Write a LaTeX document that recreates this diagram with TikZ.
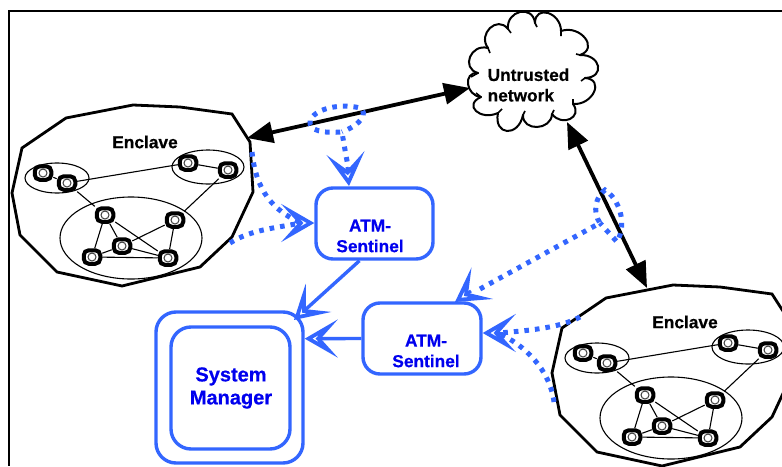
\documentclass[tikz,border=0pt]{standalone}
\usepackage{fontspec}
\setmainfont{Liberation Sans}[BoldFeatures={FakeBold=0.6}]
\usetikzlibrary{arrows.meta}
\definecolor{bl}{HTML}{3366FF}
\definecolor{tb}{HTML}{0000EE}
\tikzset{
  frameline/.style={black,line width=2.6pt},
  outline/.style={black,line width=2.8pt,line join=miter},
  thin1/.style={black,line width=1.1pt},
  device/.style={draw=black,fill=white,line width=4pt,rounded corners=5pt,minimum width=16.5pt,minimum height=13.5pt,inner sep=0pt,
    path picture={\draw[black!75,line width=1pt] (path picture bounding box.center) circle (4pt);}},
  lab/.style={font=\bfseries\fontsize{17.3}{20.5}\selectfont,align=center,inner sep=0pt},
  bbox/.style={draw=bl,line width=3.4pt,rounded corners=17pt,fill=white,inner sep=0pt},
  bigarrow/.style={black,line width=3.8pt,{Triangle[length=26pt,width=21pt]}-{Triangle[length=26pt,width=21pt]}},
  dots/.style={bl,line width=5pt,dash pattern=on 4.6pt off 6pt},
  chev/.style={-{Stealth[open,length=33pt,width=38pt,inset=17pt,line width=3.8pt]}},
  solidblue/.style={bl,line width=3.4pt,chev},
}
\newcommand\enclavegroup[3]{%
\begin{scope}[shift={(#2,#3)}]
  \draw[outline] (133,105) -- (180,107) -- (232,114) -- (250,142) -- (253,192) -- (232,237) -- (200,267) -- (122,286) -- (57,272) -- (20,235) -- (12,193) -- (22,148) -- (66,118) -- cycle;
  \node[lab] (#1t) at (145,142) {Enclave};
  \draw[thin1] (57,178) ellipse (32 and 15);
  \draw[thin1] (208,167) ellipse (36 and 17);
  \draw[thin1] (131,238) ellipse (71 and 41);
  \node[device] (#1a) at (43,173) {};
  \node[device] (#1b) at (67,183) {};
  \node[device] (#1c) at (188,163) {};
  \node[device] (#1d) at (228,170) {};
  \node[device] (#1e) at (105,215) {};
  \node[device] (#1f) at (175,220) {};
  \node[device] (#1g) at (122,246) {};
  \node[device] (#1h) at (92,257) {};
  \node[device] (#1i) at (168,258) {};
  \draw[thin1] (#1a) -- (#1b) (#1b) -- (#1c) (#1b) -- (#1e) (#1c) -- (#1d) (#1d) -- (#1f)
    (#1e) -- (#1h) (#1e) -- (#1g) (#1e) -- (#1i) (#1f) -- (#1g) (#1f) -- (#1i)
    (#1g) -- (#1h) (#1g) -- (#1i) (#1h) -- (#1i);
\end{scope}}
\begin{document}
\begin{tikzpicture}[x=1pt,y=-1pt]
\useasboundingbox (0,0) rectangle (782,466);
\clip (0,0) rectangle (782,466);
\fill[white] (0,0) rectangle (782,466);
\draw[frameline] (782,11) -- (9,11) -- (9,466);
\enclavegroup{p}{0}{0}
\enclavegroup{q}{540}{180}
% cloud: each bump is start / apex / end
\foreach \xa/\ya/\xb/\yb/\xc/\yc in {478/73/468/84/481/97, 481/97/476/111/498/113, 498/113/507/131/523/115,
  523/115/537/127/552/114, 552/114/570/119/573/104, 573/104/594/92/585/78, 585/78/598/66/580/55,
  580/55/585/38/561/31, 561/31/548/13/535/23, 535/23/520/12/508/29, 508/29/490/28/488/48, 488/48/470/57/478/73}{
  \pgfmathsetmacro\hx{(\xb-(\xa+\xc)/2)*4/3}
  \pgfmathsetmacro\hy{(\yb-(\ya+\yc)/2)*4/3}
  \draw[black,line width=2pt,line cap=round] (\xa,\ya) .. controls (\xa+\hx,\ya+\hy) and (\xc+\hx,\yc+\hy) .. (\xc,\yc);
}
\draw[black,line width=1.6pt] (478,73) -- (471,77) (481,97) -- (476,93) (498,113) -- (502,109) (523,115) -- (525,111) (552,114) -- (554,110) (573,104) -- (573,99) (585,78) -- (581,81) (580,55) -- (576,54) (561,31) -- (561,36) (535,23) -- (537,27) (508,29) -- (511,33) (488,48) -- (490,53);
\node[lab,align=left] (cloudt) at (528.5,85) {Untrusted\\network};
\coordinate (c1) at (470,88);
\coordinate (c2) at (567,122);
\coordinate (e1) at (247,138);
\coordinate (e2) at (647,288);
\draw[bigarrow] (e1) -- (c1);
\draw[bigarrow] (c2) -- (e2);
% boxes
\node[bbox,minimum width=117pt,minimum height=71pt] (s1) at (374.5,223.5) {};
\node[lab,text=tb] (s1t) at (370,236) {ATM-\\Sentinel};
\node[bbox,minimum width=118pt,minimum height=71pt] (s2) at (422,338.5) {};
\node[lab,text=tb] (s2t) at (426,351) {ATM-\\Sentinel};
\node[bbox,minimum width=147pt,minimum height=151pt,rounded corners=20pt] (sys) at (229.5,387.5) {};
\node[bbox,minimum width=119pt,minimum height=122pt,rounded corners=20pt] (sysin) at (230.5,388) {};
\node[lab,text=tb,font=\bfseries\fontsize{20}{23}\selectfont] (syst) at (231,388) {System\\Manager};
% solid arrows
\coordinate (sysA) at (294,320);
\draw[solidblue] (s1.248) -- (sysA);
\draw[solidblue] (s2.west) -- (sys.33);
% dotted
\coordinate (a1) at (252,152);
\coordinate (a2) at (230,243);
\coordinate (a3) at (301,223);
\coordinate (a4) at (349,172);
\coordinate (b1) at (580,317);
\coordinate (b2) at (554,402);
\coordinate (b3) at (498,333);
\coordinate (b4) at (480,289);
\draw[dots] (a1) .. controls (256,190) and (272,210) .. (a3);
\draw[dots] (a2) .. controls (250,230) and (275,228) .. (a3);
\draw[dots] (a4) .. controls (346,155) and (344,145) .. (342,132)
  .. controls (325,133) and (308,132) .. (310,120)
  .. controls (318,106) and (345,104) .. (360,108)
  .. controls (368,113) and (362,124) .. (342,132);
\draw[dots] (b1) .. controls (560,328) and (525,331) .. (b3);
\draw[dots] (b2) .. controls (550,370) and (525,345) .. (b3);
\draw[dots] (b4) -- (600,223) .. controls (592,212) and (596,196) .. (605,190)
  .. controls (618,198) and (628,222) .. (617,242) .. controls (612,236) and (606,230) .. (600,223);
% chevron heads on top of dotted lines
\coordinate (n1) at (297,223);
\coordinate (n2) at (347,167);
\coordinate (n3) at (503,333);
\coordinate (n4) at (471,291);
\draw[bl,line width=3pt,chev] (n1) -- (s1.west |- n1);
\draw[bl,line width=3pt,chev] (n2) -- (349,186);
\draw[bl,line width=3pt,chev] (n3) -- (s2.east |- n3);
\draw[bl,line width=3pt,chev] (n4) -- (455,302);
\end{tikzpicture}
\end{document}
